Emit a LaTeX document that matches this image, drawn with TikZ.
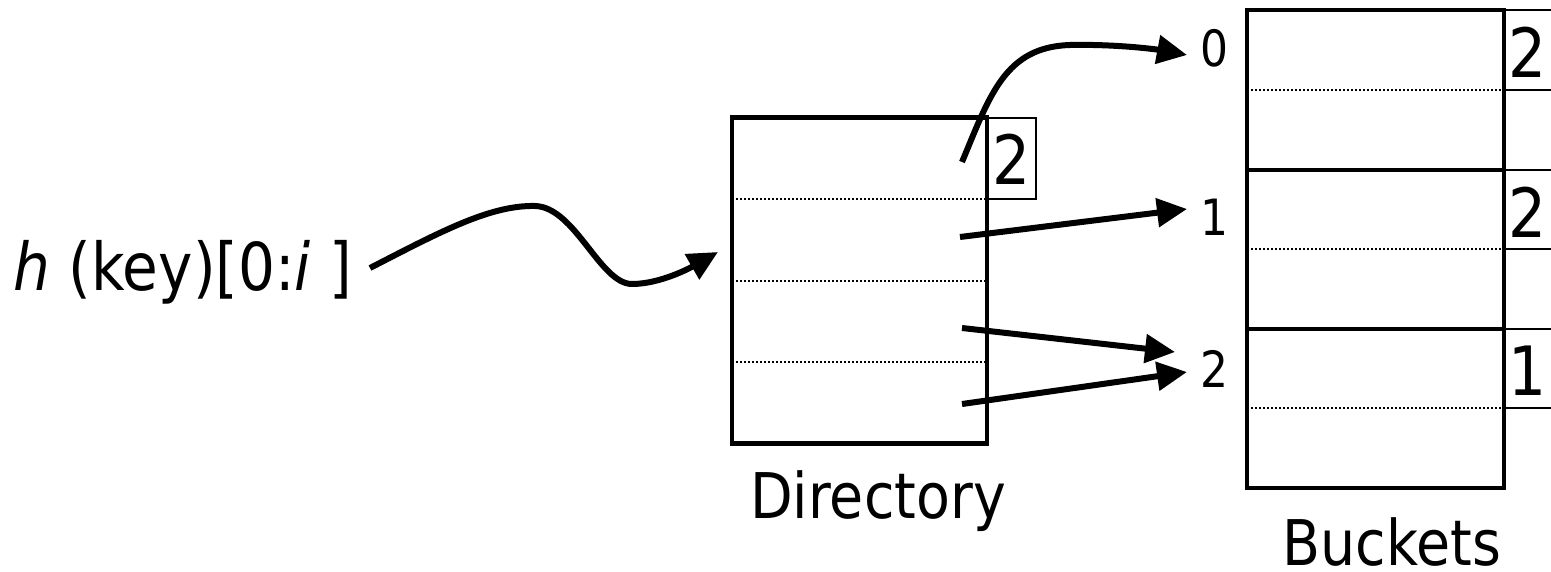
\documentclass[tikz,border=0pt]{standalone}
\usepackage{fontspec}
\setmainfont{DejaVu Sans}[FakeStretch=0.88]
\usetikzlibrary{arrows.meta}
\begin{document}
\begin{tikzpicture}[x=0.5pt,y=-0.5pt,
  thickbox/.style={draw, line width=2.1pt, inner sep=0pt},
  thinbox/.style={draw, line width=0.8pt, inner sep=0pt},
  sepline/.style={line width=1.1pt, dash pattern=on 1pt off 1pt},
  arr/.style={line width=3pt, -{Triangle[length=15pt,width=14pt]}},
  bigtxt/.style={font=\fontsize{31.5}{36}\selectfont, inner sep=0pt, anchor=base},
  boxnum/.style={font=\fontsize{34}{40}\selectfont, inner sep=0pt, anchor=base},
  idx/.style={font=\fontsize{25}{30}\selectfont, inner sep=0pt, anchor=base}]
\useasboundingbox (0,0) rectangle (1551,572);
\clip (0,0) rectangle (1551,572);

% directory
\node[thickbox, minimum width=127.5pt, minimum height=163pt] (dir) at (859.5,280.5) {};
\foreach \y in {199,281,362} \draw[sepline] (732,\y) -- (987,\y);
\node[thinbox, minimum width=24.5pt, minimum height=40.5pt] (gd) at (1011.5,158.5) {};
\node[boxnum] (gdn) at (1012,185) {2};
\node[bigtxt] (dirlbl) at (878,518) {Directory};

% buckets
\node[thickbox, minimum width=128.5pt, minimum height=80pt] (b0) at (1375.5,90) {};
\node[thickbox, minimum width=128.5pt, minimum height=79.5pt] (b1) at (1375.5,249.5) {};
\node[thickbox, minimum width=128.5pt, minimum height=79.5pt] (b2) at (1375.5,408.5) {};
\foreach \y in {90,249,408} \draw[sepline] (1247,\y) -- (1504,\y);
\node[thinbox, minimum width=28pt, minimum height=40pt] (l0) at (1532,50) {};
\node[thinbox, minimum width=28pt, minimum height=39.5pt] (l1) at (1532,209.5) {};
\node[thinbox, minimum width=28pt, minimum height=39.5pt] (l2) at (1532,368.5) {};
\node[boxnum] (l0n) at (1528,78) {2};
\node[boxnum] (l1n) at (1528,237) {2};
\node[boxnum] (l2n) at (1528,395) {1};
\node[bigtxt] (blbl) at (1392,565) {Buckets};

% indices
\node[idx] (i0) at (1214,67) {0};
\node[idx] (i1) at (1214,235) {1};
\node[idx] (i2) at (1214,387) {2};

% hash label
\node[font=\fontsize{33}{40}\selectfont, inner sep=0pt, anchor=base west] (key) at (13,290) {\textit{h} (key)[0:\textit{i} ]};

% arrow coordinates
\coordinate (ks) at (370,268);
\coordinate (kt) at (718,252);
\coordinate (s0) at (962,162);
\coordinate (t0) at (1187,55);
\coordinate (s1) at (960,237);
\coordinate (t1) at (1187,209);
\coordinate (s2) at (962,328);
\coordinate (t2) at (1175,352);
\coordinate (s3) at (962,404);
\coordinate (t3) at (1187,372);

\draw[arr] (ks) .. controls (440,232) and (490,205) .. (535,206) .. controls (575,207) and (600,284) .. (632,284) .. controls (660,284) and (690,268) .. (kt);
\draw[arr] (s0) .. controls (990,95) and (1005,47) .. (1070,45) .. controls (1120,44) and (1160,50) .. (t0);
\draw[arr] (s1) -- (t1);
\draw[arr] (s2) -- (t2);
\draw[arr] (s3) -- (t3);
\end{tikzpicture}
\end{document}
